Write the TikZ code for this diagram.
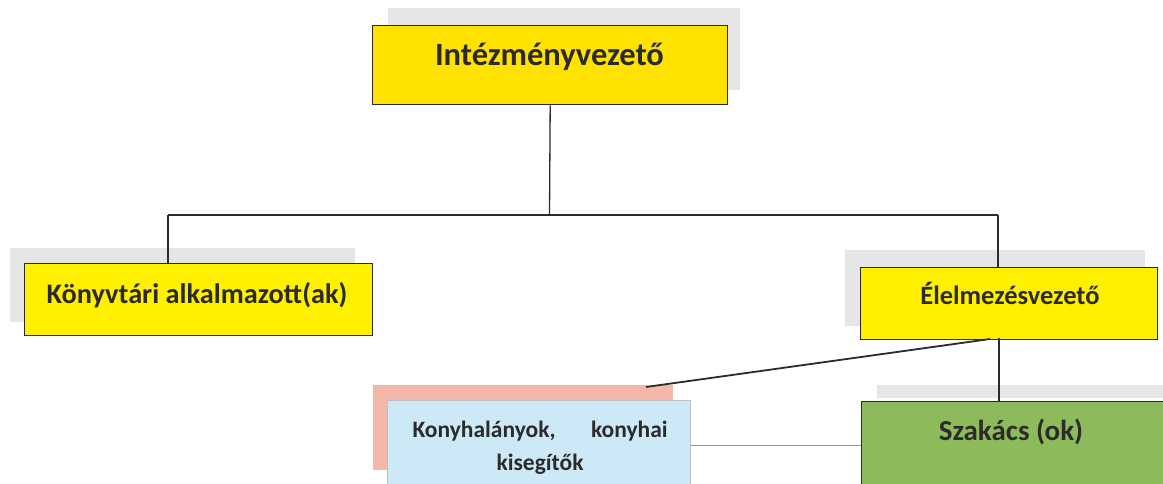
\documentclass[tikz,border=0pt]{standalone}
\usepackage{fontspec}
\setmainfont{Carlito}
\definecolor{boxyellow}{HTML}{FFE200}
\definecolor{boxlemon}{HTML}{FFF000}
\definecolor{boxgreen}{HTML}{8DBB5B}
\definecolor{boxblue}{HTML}{CDE8F6}
\definecolor{boxpink}{HTML}{F3B8A8}
\definecolor{shade}{HTML}{E6E6E6}
\definecolor{ink}{HTML}{2B2B2B}
\tikzset{
  orgbox/.style={draw=ink, line width=1.4pt, anchor=north west, inner sep=0pt},
  label text/.style={font=\bfseries\fontsize{#1}{#1}\selectfont, text=ink, inner sep=0pt},
  shadeband/.style={fill=shade, draw=none},
  link/.style={draw=ink, line width=1.3pt},
  thinlink/.style={draw=black!40, line width=0.9pt},
}
\begin{document}
\begin{tikzpicture}[x=1pt,y=-1pt]
  \useasboundingbox (0,0) rectangle (1163,483);
  \clip (0,0) rectangle (1163,483);
  \fill[white] (0,0) rectangle (1163,483);

  % grey bands behind the boxes
  \fill[shadeband] (388,8) rectangle (740,90);
  \fill[shadeband] (10,248) rectangle (355,322);
  \fill[shadeband] (845,250) rectangle (1145,326);
  \fill[shadeband] (877,385) rectangle (1163,398);

  % boxes
  \node[orgbox, fill=boxyellow, minimum width=355pt, minimum height=79pt]
    (head) at (372,25) {};
  \node[orgbox, fill=boxlemon, minimum width=348pt, minimum height=72pt]
    (lib) at (24,263) {};
  \node[orgbox, fill=boxlemon, minimum width=297pt, minimum height=72pt]
    (food) at (860,267) {};
  \node[anchor=north west, fill=boxpink, minimum width=300pt, minimum height=85pt, inner sep=0pt]
    (pink) at (373,385) {};
  \node[anchor=north west, fill=boxblue, draw=black!25, line width=0.8pt,
    minimum width=303pt, minimum height=100pt, inner sep=0pt]
    (kitchen) at (387,400) {};
  \node[orgbox, fill=boxgreen, minimum width=320pt, minimum height=100pt]
    (cook) at (861,401) {};

  % box texts (anchored on their baselines)
  \node[label text=32.5, anchor=base] (headtext) at (549.5,65) {Intézményvezető};
  \node[label text=28.3, anchor=base] (libtext) at (197,303) {Könyvtári alkalmazott(ak)};
  \node[label text=26.5, anchor=base] (foodtext) at (1010,304) {Élelmezésvezető};
  \node[label text=29, anchor=base] (cooktext) at (1011,440) {Szakács (ok)};
  \node[label text=23.5, anchor=base] (kitchentext1) at (540,437)
    {\makebox[255pt][s]{Konyhalányok,\hfill konyhai}};
  \node[label text=23.5, anchor=base] (kitchentext2) at (540,470) {kisegítők};

  % connectors
  \coordinate (bus) at (549.5,215);
  \coordinate (busL) at (168,215);
  \coordinate (busR) at (998,215);
  \coordinate (foodDrop) at (999,338);
  \coordinate (foodSlant) at (990,339);
  \coordinate (pinkEnd) at (646,387);
  \coordinate (kitchenRight) at (690,445);
  \path[link] (head.south) -- (bus);
  \path[link] (busL) -- (busR);
  \path[link] (busL) -- (busL |- lib.north);
  \path[link] (busR) -- (busR |- food.north);
  \path[link] (foodDrop) -- (foodDrop |- cook.north);
  \path[link, line width=1.8pt] (foodSlant) -- (pinkEnd);
  \path[thinlink] (kitchenRight) -- (kitchenRight -| cook.west);
\end{tikzpicture}
\end{document}
